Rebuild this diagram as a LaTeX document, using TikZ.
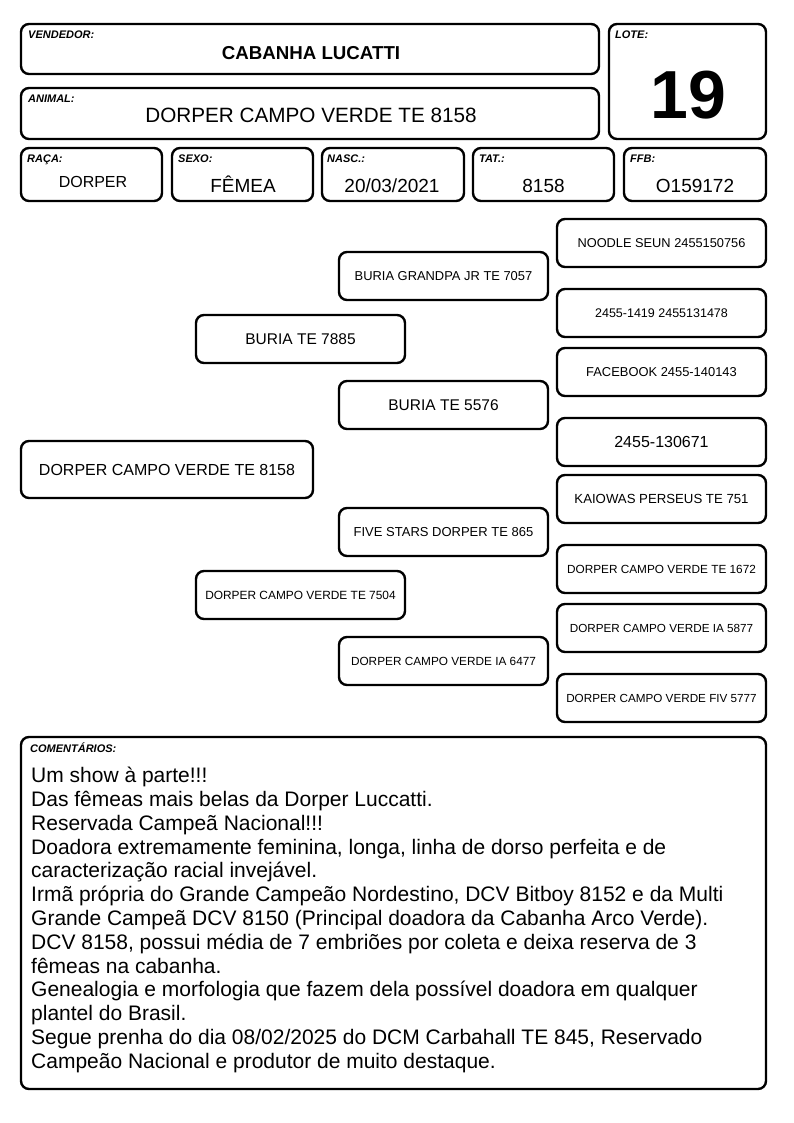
\documentclass[tikz,border=0pt]{standalone}
\usepackage{fontspec}
\setmainfont{Liberation Sans}
\begin{document}
\begin{tikzpicture}[
		x=1pt, y=-1pt,
		box/.style={draw, line width=2.4pt, rounded corners=8pt, inner sep=0pt, align=center},
		pedbox/.style={box, minimum width=209pt, minimum height=48pt},
		lbl/.style={anchor=base west, inner sep=0pt, font=\fontsize{11}{12}\selectfont\bfseries\itshape},
		val/.style={anchor=base, inner sep=0pt, font=\fontsize{19}{22}\selectfont}]
		\useasboundingbox (0,0) rectangle (794,1123);
		% cabecalho
		\node [box, minimum width=578pt, minimum height=50pt] (vend) at (310,49) {};
		\node [box, minimum width=578pt, minimum height=51pt] (anim) at (310,113.5) {};
		\node [box, minimum width=157pt, minimum height=115pt] (lote) at (687.5,81.5) {};
		\node [lbl] (vendlbl) at (28,39) {VENDEDOR:};
		\node [lbl] (animlbl) at (28,103) {ANIMAL:};
		\node [lbl] (lotelbl) at (615,39) {LOTE:};
		\node [val, font=\fontsize{18.7}{22}\selectfont\bfseries] (vendval) at (311,60) {CABANHA LUCATTI};
		\node [val, font=\fontsize{20.7}{24}\selectfont] (animval) at (311,123) {DORPER CAMPO VERDE TE 8158};
		\node [val, font=\fontsize{68}{72}\selectfont\bfseries] (loteval) at (688,119) {19};
		% dados
		\node [box, minimum width=141pt, minimum height=53pt] (raca) at (91.5,174.5) {};
		\node [box, minimum width=141pt, minimum height=53pt] (sexo) at (242.5,174.5) {};
		\node [box, minimum width=142pt, minimum height=53pt] (nasc) at (393,174.5) {};
		\node [box, minimum width=141pt, minimum height=53pt] (tat) at (543.5,174.5) {};
		\node [box, minimum width=142pt, minimum height=53pt] (ffb) at (695,174.5) {};
		\node [lbl] (racalbl) at (27,163) {RAÇA:};
		\node [lbl] (sexolbl) at (178,163) {SEXO:};
		\node [lbl] (nasclbl) at (327,163) {NASC.:};
		\node [lbl] (tatlbl) at (479,163) {TAT.:};
		\node [lbl] (ffblbl) at (630,163) {FFB:};
		\node [val, font=\fontsize{16}{19}\selectfont] (racaval) at (93,188) {DORPER};
		\node [val] (sexoval) at (243,193) {FÊMEA};
		\node [val] (nascval) at (392,193) {20/03/2021};
		\node [val] (tatval) at (543.5,193) {8158};
		\node [val] (ffbval) at (695,193) {O159172};
		% genealogia
		\node [box, minimum width=292pt, minimum height=57pt, font=\fontsize{16}{19}\selectfont] (animal) at (167,469.5) {DORPER CAMPO VERDE TE 8158};
		\node [pedbox, font=\fontsize{15.5}{18}\selectfont] (pai) at (300.5,339) {BURIA TE 7885};
		\node [pedbox, font=\fontsize{11.9}{14}\selectfont] (mae) at (300.5,595) {DORPER CAMPO VERDE TE 7504};
		\node [pedbox, font=\fontsize{12.9}{15}\selectfont] (avopp) at (443.5,276) {BURIA GRANDPA JR TE 7057};
		\node [pedbox, font=\fontsize{15.5}{18}\selectfont] (avomp) at (443.5,405) {BURIA TE 5576};
		\node [pedbox, font=\fontsize{13}{15}\selectfont] (avopm) at (443.5,532) {FIVE STARS DORPER TE 865};
		\node [pedbox, font=\fontsize{11.8}{14}\selectfont] (avomm) at (443.5,661) {DORPER CAMPO VERDE IA 6477};
		\node [pedbox, font=\fontsize{12.8}{15}\selectfont] (bis1) at (661.5,243) {NOODLE SEUN 2455150756};
		\node [pedbox, font=\fontsize{12.5}{15}\selectfont] (bis2) at (661.5,313) {2455-1419 2455131478};
		\node [pedbox, font=\fontsize{12.9}{15}\selectfont] (bis3) at (661.5,372) {FACEBOOK 2455-140143};
		\node [pedbox, font=\fontsize{16}{19}\selectfont] (bis4) at (661.5,442) {2455-130671};
		\node [pedbox, font=\fontsize{13.2}{15}\selectfont] (bis5) at (661.5,499) {KAIOWAS PERSEUS TE 751};
		\node [pedbox, font=\fontsize{11.8}{14}\selectfont] (bis6) at (661.5,569) {DORPER CAMPO VERDE TE 1672};
		\node [pedbox, font=\fontsize{11.7}{14}\selectfont] (bis7) at (661.5,628) {DORPER CAMPO VERDE IA 5877};
		\node [pedbox, font=\fontsize{11.7}{14}\selectfont] (bis8) at (661.5,698) {DORPER CAMPO VERDE FIV 5777};
		% comentarios
		\node [box, minimum width=745pt, minimum height=352pt] (coment) at (393.5,913) {};
		\node [lbl] (comentlbl) at (30,752) {COMENTÁRIOS:};
		\node [anchor=north west, inner sep=0pt, align=left, font=\fontsize{21}{23.8}\selectfont] (comenttxt) at (31,767) {%
			Um show à parte!!!\\
			Das fêmeas mais belas da Dorper Luccatti.\\
			Reservada Campeã Nacional!!!\\
			Doadora extremamente feminina, longa, linha de dorso perfeita e de\\
			caracterização racial invejável.\\
			Irmã própria do Grande Campeão Nordestino, DCV Bitboy 8152 e da Multi\\
			Grande Campeã DCV 8150 (Principal doadora da Cabanha Arco Verde).\\
			DCV 8158, possui média de 7 embriões por coleta e deixa reserva de 3\\
			fêmeas na cabanha.\\
			Genealogia e morfologia que fazem dela possível doadora em qualquer\\
			plantel do Brasil.\\
			Segue prenha do dia 08/02/2025 do DCM Carbahall TE 845, Reservado\\
			Campeão Nacional e produtor de muito destaque.};
\end{tikzpicture}
\end{document}
